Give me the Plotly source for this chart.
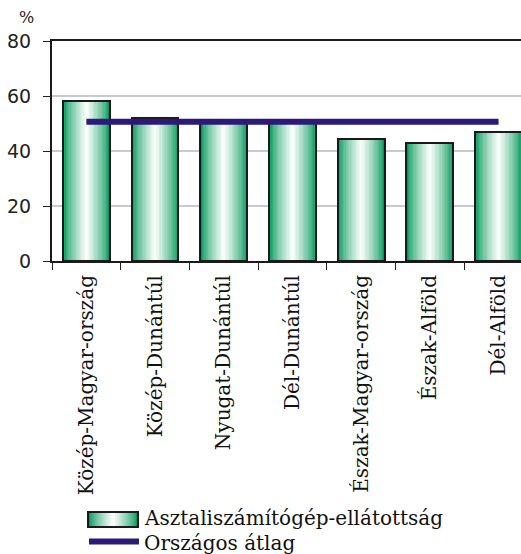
import plotly.graph_objects as go

# Regional desktop-computer coverage (%) and the national average
regions = [
    "Közép-Magyar-ország",
    "Közép-Dunántúl",
    "Nyugat-Dunántúl",
    "Dél-Dunántúl",
    "Észak-Magyar-ország",
    "Észak-Alföld",
    "Dél-Alföld",
]
coverage = [58.2, 52.1, 51.4, 50.9, 44.4, 42.8, 46.8]
national_avg = 50.6
y_ticks = [0, 20, 40, 60, 80]

W, H = 521, 554
PL, PR, PT, PB = 52, 521, 41, 261  # plot-area pixel box
CAT_PX = 68.7                       # width of one category slot in pixels

EDGE = (0, 152, 90)
LIGHT = (248, 252, 248)
N_STRIPES = 18
BAR_W = 0.68


def mix(t):
    r, g, b = (round(EDGE[i] + (LIGHT[i] - EDGE[i]) * t) for i in range(3))
    return f"rgb({r},{g},{b})"


fig = go.Figure()

# Cylinder-like shading: stacked overlaid bars, narrower ones lighter
for k in range(N_STRIPES):
    t = k / (N_STRIPES - 1)
    fig.add_trace(go.Bar(
        x=regions, y=coverage, width=BAR_W * (1 - k / N_STRIPES),
        marker=dict(color=mix(t ** 0.75), line=dict(width=0)),
        showlegend=False, hoverinfo="skip",
    ))

# Outline of each bar
fig.add_trace(go.Bar(
    x=regions, y=coverage, width=BAR_W,
    marker=dict(color="rgba(0,0,0,0)", line=dict(color="#1a1a1a", width=2)),
    name="Asztaliszámítógép-ellátottság", showlegend=False,
))

# National average line
fig.add_trace(go.Scatter(
    x=[regions[0], regions[-1]], y=[national_avg, national_avg],
    mode="lines", line=dict(color="#2c1a78", width=6),
    name="Országos átlag", showlegend=False,
))


def px_x(p):
    return (p - PL) / (PR - PL)


def px_y(p):
    return (PB - p) / (PB - PT)


shapes = []
# Legend swatch for the bars (shaded box)
bx0, bx1, by0, by1 = 88, 138, 512, 527
steps = 12
for k in range(steps):
    t = k / (steps - 1)
    half = (bx1 - bx0) / 2 * (1 - k / steps)
    cx = (bx0 + bx1) / 2
    shapes.append(dict(
        type="rect", xref="paper", yref="paper",
        x0=px_x(cx - half), x1=px_x(cx + half), y0=px_y(by1), y1=px_y(by0),
        fillcolor=mix(t ** 0.75), line=dict(width=0),
    ))
shapes.append(dict(
    type="rect", xref="paper", yref="paper",
    x0=px_x(bx0), x1=px_x(bx1), y0=px_y(by1), y1=px_y(by0),
    fillcolor="rgba(0,0,0,0)", line=dict(color="#1a1a1a", width=2),
))
# Legend swatch for the average line
shapes.append(dict(
    type="line", xref="paper", yref="paper",
    x0=px_x(89), x1=px_x(139), y0=px_y(541.5), y1=px_y(541.5),
    line=dict(color="#2c1a78", width=6),
))

serif = "DejaVu Serif"
annotations = [
    dict(text="Asztaliszámítógép-ellátottság", xref="paper", yref="paper",
         x=px_x(142), y=px_y(518), xanchor="left", yanchor="middle",
         showarrow=False, font=dict(family=serif, size=20, color="#111")),
    dict(text="Országos átlag", xref="paper", yref="paper",
         x=px_x(142), y=px_y(543), xanchor="left", yanchor="middle",
         showarrow=False, font=dict(family=serif, size=20, color="#111")),
    dict(text="%", xref="paper", yref="paper",
         x=px_x(26), y=px_y(29), xanchor="center", yanchor="bottom",
         showarrow=False, font=dict(family=serif, size=16, color="#222")),
]

last = len(regions) - 1
# right end of the category range: the last slot runs past the page edge
x_hi = last + (PR - (PL + (last + 0.5) * CAT_PX)) / CAT_PX

fig.update_layout(
    width=W, height=H,
    margin=dict(l=PL, r=W - PR, t=PT, b=H - PB, pad=0),
    paper_bgcolor="white", plot_bgcolor="white",
    barmode="overlay", bargap=0,
    shapes=shapes, annotations=annotations,
    showlegend=False,
)
fig.update_xaxes(
    type="category", range=[-0.5, x_hi],
    tickangle=-90, tickson="boundaries", ticks="outside", ticklen=7,
    tickcolor="#222", tickwidth=1, ticklabelstandoff=4,
    showline=True, linecolor="#1a1a1a", linewidth=2, mirror=True,
    showgrid=False, automargin=False,
    tickfont=dict(family=serif, size=20, color="#111"),
)
fig.update_yaxes(
    range=[0, 80], tickvals=y_ticks, ticks="outside", ticklen=7,
    tickcolor="#222", tickwidth=1, ticklabelstandoff=8,
    showline=True, linecolor="#1a1a1a", linewidth=2,
    showgrid=True, gridcolor="#c9c9d3", gridwidth=1.5,
    zeroline=False, automargin=False,
    tickfont=dict(family="DejaVu Sans", size=19, color="#222"),
)

fig.write_html("out.html")
